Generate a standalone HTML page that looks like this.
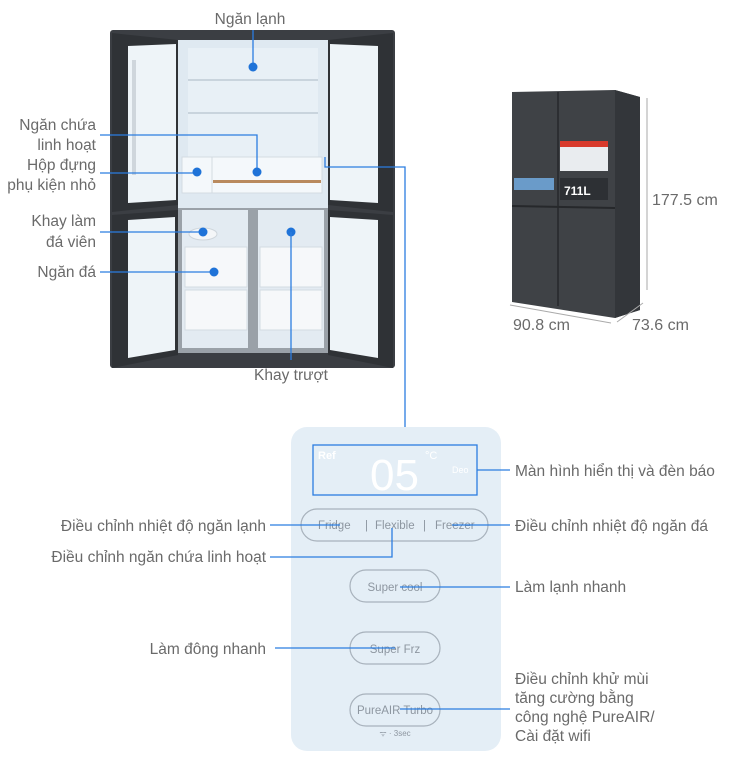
<!DOCTYPE html>
<html><head><meta charset="utf-8"><style>
html,body{margin:0;padding:0;background:#fff;}
svg{display:block;}
text{font-family:"Liberation Sans",sans-serif;fill:#6a6a6a;font-size:15.5px;}
.b{stroke:#2b7de0;stroke-width:1.3;fill:none;}
.d{fill:#1f73d8;}
.p{font-family:"Liberation Sans",sans-serif;fill:#8d96a0;font-size:11.5px;}
</style></head><body>
<svg width="753" height="768" viewBox="0 0 753 768">
<rect x="110" y="30" width="285" height="338" fill="#3b3e43" rx="3"/>
<path d="M112 33 L178 40 L178 205 L112 212 Z" fill="#2f3236"/>
<path d="M128 46 L176 44 L176 200 L128 203 Z" fill="#eef4f8"/>
<rect x="132" y="60" width="4" height="115" fill="#cfd6dc"/>
<rect x="178" y="40" width="150" height="168" fill="#dfe9f1"/>
<rect x="188" y="48" width="130" height="140" fill="#e8f0f6"/>
<line x1="188" y1="80" x2="318" y2="80" stroke="#c9d4dd" stroke-width="2"/>
<line x1="188" y1="113" x2="318" y2="113" stroke="#c9d4dd" stroke-width="2"/>
<rect x="182" y="157" width="140" height="36" fill="#f4f8fb" stroke="#d3dbe2"/>
<line x1="212" y1="157" x2="212" y2="193" stroke="#d3dbe2"/>
<rect x="213" y="180" width="108" height="3" fill="#b98a5e"/>
<path d="M328 40 L393 33 L393 212 L328 205 Z" fill="#2f3236"/>
<path d="M330 44 L378 46 L378 203 L330 200 Z" fill="#eef4f8"/>
<rect x="178" y="208" width="150" height="145" fill="#9aa1a8"/>
<rect x="182" y="210" width="66" height="138" fill="#e3ebf2"/>
<rect x="258" y="210" width="66" height="138" fill="#e3ebf2"/>
<rect x="185" y="247" width="62" height="40" fill="#f6f8fa" stroke="#d3dbe2"/>
<rect x="185" y="290" width="62" height="40" fill="#f6f8fa" stroke="#d3dbe2"/>
<rect x="260" y="247" width="62" height="40" fill="#f6f8fa" stroke="#d3dbe2"/>
<rect x="260" y="290" width="62" height="40" fill="#f6f8fa" stroke="#d3dbe2"/>
<ellipse cx="203" cy="234" rx="14" ry="6" fill="#f4f6f8" stroke="#cfd6dc"/>
<path d="M112 215 L178 210 L178 355 L112 368 Z" fill="#2f3236"/>
<path d="M128 220 L175 217 L175 350 L128 358 Z" fill="#eef4f8"/>
<path d="M328 210 L393 215 L393 368 L328 355 Z" fill="#2f3236"/>
<path d="M330 217 L378 220 L378 358 L330 350 Z" fill="#eef4f8"/>
<text x="250" y="24" text-anchor="middle">Ngăn lạnh</text>
<line class="b" x1="253" y1="30" x2="253" y2="67"/><circle class="d" cx="253" cy="67" r="4.5"/>
<text x="96" y="130" text-anchor="end">Ngăn chứa</text>
<text x="96" y="150" text-anchor="end">linh hoạt</text>
<text x="96" y="170" text-anchor="end">Hộp đựng</text>
<text x="96" y="190" text-anchor="end">phụ kiện nhỏ</text>
<polyline class="b" points="100,135 257,135 257,172"/><circle class="d" cx="257" cy="172" r="4.5"/>
<line class="b" x1="100" y1="173" x2="197" y2="173"/><circle class="d" cx="197" cy="172" r="4.5"/>
<text x="96" y="226" text-anchor="end">Khay làm</text>
<text x="96" y="247" text-anchor="end">đá viên</text>
<line class="b" x1="100" y1="232" x2="203" y2="232"/><circle class="d" cx="203" cy="232" r="4.5"/>
<text x="96" y="277" text-anchor="end">Ngăn đá</text>
<line class="b" x1="100" y1="272" x2="214" y2="272"/><circle class="d" cx="214" cy="272" r="4.5"/>
<circle class="d" cx="291" cy="232" r="4.5"/><line class="b" x1="291" y1="232" x2="291" y2="360"/>
<text x="291" y="380" text-anchor="middle">Khay trượt</text>
<polyline class="b" points="325,157 325,167 405,167 405,427"/>
<path d="M512 92 L615 90 L640 97 L640 310 L615 318 L512 302 Z" fill="#3f4246"/>
<path d="M615 90 L640 97 L640 310 L615 318 Z" fill="#33363a"/>
<line x1="558" y1="92" x2="558" y2="306" stroke="#26282b" stroke-width="1.5"/>
<line x1="512" y1="206" x2="615" y2="208" stroke="#26282b" stroke-width="2"/>
<rect x="560" y="141" width="48" height="30" fill="#e9ecef"/>
<rect x="560" y="141" width="48" height="6" fill="#d83a2c"/>
<rect x="560" y="178" width="48" height="22" fill="#2d3034"/>
<text x="564" y="195" style="fill:#fff;font-size:12px;font-weight:bold">711L</text>
<rect x="514" y="178" width="40" height="12" fill="#6a9bc9"/>
<line x1="647" y1="98" x2="647" y2="290" stroke="#aaa" stroke-width="1"/>
<text x="652" y="205" style="font-size:16px">177.5 cm</text>
<line x1="510" y1="305" x2="611" y2="323" stroke="#aaa"/>
<line x1="617" y1="322" x2="643" y2="303" stroke="#aaa"/>
<text x="513" y="330" style="font-size:16px">90.8 cm</text>
<text x="632" y="330" style="font-size:16px">73.6 cm</text>
<rect x="291" y="427" width="210" height="324" rx="16" fill="#e4eef6"/>
<rect class="b" x="313" y="445" width="164" height="50"/>
<text x="318" y="459" style="fill:#fff;font-size:11px;font-weight:bold">Ref</text>
<text x="370" y="490" style="fill:#fff;font-size:44px">05</text>
<text x="425" y="459" style="fill:#fff;font-size:11px">°C</text>
<text x="452" y="473" style="fill:#fff;font-size:9px">Deo</text>
<line class="b" x1="477" y1="470" x2="510" y2="470"/>
<text x="515" y="476">Màn hình hiển thị và đèn báo</text>
<rect x="301" y="509" width="187" height="32" rx="16" fill="none" stroke="#a8b2bc" stroke-width="1.2"/>
<text class="p" x="318" y="529">Fridge</text><text class="p" x="365" y="529">|</text>
<text class="p" x="375" y="529">Flexible</text><text class="p" x="423" y="529">|</text>
<text class="p" x="435" y="529">Freezer</text>
<line class="b" x1="270" y1="525" x2="340" y2="525"/>
<text x="266" y="531" text-anchor="end">Điều chỉnh nhiệt độ ngăn lạnh</text>
<polyline class="b" points="392,528 392,557 270,557"/>
<text x="266" y="562" text-anchor="end">Điều chỉnh ngăn chứa linh hoạt</text>
<line class="b" x1="452" y1="525" x2="510" y2="525"/>
<text x="515" y="531">Điều chỉnh nhiệt độ ngăn đá</text>
<rect x="350" y="570" width="90" height="32" rx="16" fill="none" stroke="#a8b2bc" stroke-width="1.2"/>
<text class="p" x="395" y="591" text-anchor="middle">Super cool</text>
<line class="b" x1="400" y1="587" x2="510" y2="587"/>
<text x="515" y="592">Làm lạnh nhanh</text>
<rect x="350" y="632" width="90" height="32" rx="16" fill="none" stroke="#a8b2bc" stroke-width="1.2"/>
<text class="p" x="395" y="653" text-anchor="middle">Super Frz</text>
<line class="b" x1="275" y1="648" x2="395" y2="648"/>
<text x="266" y="654" text-anchor="end">Làm đông nhanh</text>
<rect x="350" y="694" width="90" height="32" rx="16" fill="none" stroke="#a8b2bc" stroke-width="1.2"/>
<text class="p" x="395" y="714" text-anchor="middle">PureAIR Turbo</text>
<text class="p" x="395" y="736" text-anchor="middle" style="font-size:8px">ᯤ · 3sec</text>
<line class="b" x1="400" y1="709" x2="510" y2="709"/>
<text x="515" y="684">Điều chỉnh khử mùi</text>
<text x="515" y="703">tăng cường bằng</text>
<text x="515" y="722">công nghệ PureAIR/</text>
<text x="515" y="741">Cài đặt wifi</text>
</svg>
</body></html>
